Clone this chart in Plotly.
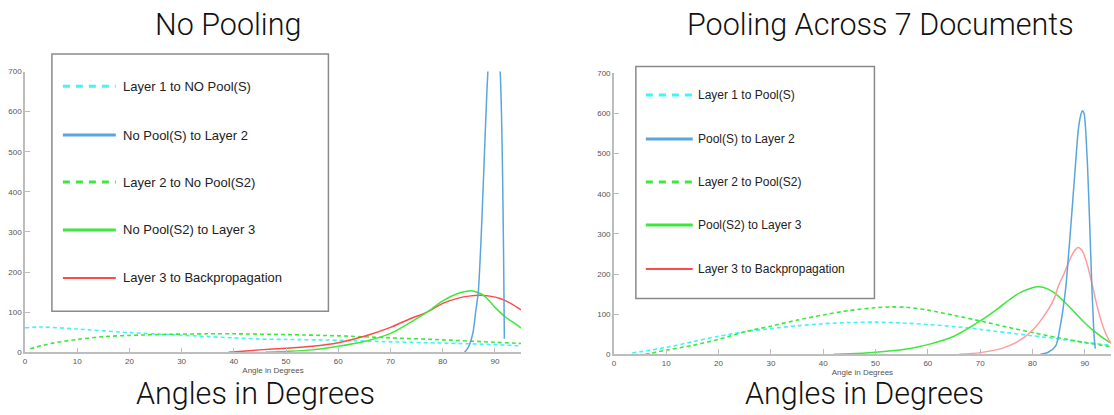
import plotly.graph_objects as go

W, H = 1114, 415

# ---------------- data ----------------
# Left panel: No Pooling
l_names = ["Layer 1 to NO Pool(S)", "No Pool(S) to Layer 2", "Layer 2 to No Pool(S2)",
           "No Pool(S2) to Layer 3", "Layer 3 to Backpropagation"]
l_cyan_x = [0, 3, 10, 20, 28, 35, 40, 45, 50, 60, 70, 80, 90, 95]
l_cyan_y = [61, 63, 58, 49, 44, 39, 36, 33, 32, 30, 26, 23, 19, 16]
l_blue_x = [84.2, 85, 85.8, 86.3, 86.8, 87.4, 88, 88.65, 89.8, 91, 91.8]
l_blue_y = [0, 15, 50, 100, 150, 300, 500, 700, 900, 700, 34]
l_gdash_x = [1, 5, 10, 15, 20, 28, 35, 40, 50, 60, 70, 80, 90, 95]
l_gdash_y = [9, 22, 32, 39, 42, 45, 46, 46, 44, 41, 36, 31, 25, 22]
l_green_x = [46, 50, 55, 60, 65, 70, 74, 77, 80, 83, 85, 86, 88, 90, 92, 94, 95]
l_green_y = [0, 2, 6, 15, 27, 47, 76, 100, 128, 147, 153, 152, 140, 112, 88, 70, 60]
l_red_x = [39, 45, 50, 55, 60, 65, 70, 74, 77, 80, 83, 85, 87, 89, 91, 93, 95]
l_red_y = [0, 6, 10, 15, 24, 40, 62, 85, 100, 122, 135, 140, 142, 140, 134, 122, 106]

# Right panel: Pooling Across 7 Documents
r_names = ["Layer 1 to Pool(S)", "Pool(S) to Layer 2", "Layer 2 to Pool(S2)",
           "Pool(S2) to Layer 3", "Layer 3 to Backpropagation"]
r_cyan_x = [3.5, 10, 15, 20, 25, 30, 35, 40, 45, 50, 55, 60, 65, 70, 75, 80, 85, 90, 95]
r_cyan_y = [3, 17, 31, 45, 56, 64, 71, 76, 79, 80, 78, 74, 69, 62, 54, 46, 38, 30, 22]
r_blue_x = [81.5, 83, 84.4, 85.3, 86.3, 86.9, 87.5, 88.2, 88.8, 89.3, 89.55, 89.85, 90.4, 90.9, 91.3, 91.8, 92.0]
r_blue_y = [0, 5, 20, 70, 160, 250, 350, 470, 565, 600, 607, 600, 500, 335, 183, 40, 14]
r_gdash_x = [6, 10, 15, 20, 25, 30, 35, 40, 45, 50, 53, 56, 60, 65, 70, 75, 80, 85, 90, 95]
r_gdash_y = [0, 10, 22, 37, 56, 70, 85, 98, 109, 116, 118, 117, 110, 97, 83, 68, 54, 41, 29, 19]
r_green_x = [42, 45, 50, 55, 58, 60, 65, 70, 73, 76, 78, 80, 81, 82, 84, 86, 88, 90, 92, 94, 95]
r_green_y = [0, 1, 5, 11, 18, 24, 45, 83, 110, 140, 156, 166, 168, 167, 155, 132, 105, 78, 55, 36, 28]
r_red_x = [66, 70, 74, 77, 80, 82, 84, 85, 86, 87, 88, 88.7, 89.5, 90.5, 91.5, 92.5, 93.5, 94.5, 95]
r_red_y = [0, 4, 14, 30, 60, 92, 135, 172, 200, 232, 258, 266, 258, 222, 168, 112, 68, 38, 28]

x_ticks = [0, 10, 20, 30, 40, 50, 60, 70, 80, 90]
y_ticks = [0, 100, 200, 300, 400, 500, 600, 700]

# ---------------- styles ----------------
CYAN = "#3ff5f5"
BLUE = "#5aa6dc"
GREEN = "#3de83d"
RED = "#ff4a4a"
RED_LIGHT = "#ff9c9c"
DASH = "4px,3px"

def px_x(px):
    return px / W

def px_y(py):
    return 1 - py / H

fig = go.Figure()

def add(x, y, color, dash, xa, ya, name, width=1.5):
    fig.add_trace(go.Scatter(x=x, y=y, mode="lines", name=name, showlegend=False,
                             line=dict(color=color, width=width, dash=dash, shape="spline", smoothing=0.8),
                             xaxis=xa, yaxis=ya, hoverinfo="skip"))

add(l_cyan_x, l_cyan_y, CYAN, DASH, "x", "y", l_names[0], 1.6)
add(l_gdash_x, l_gdash_y, GREEN, DASH, "x", "y", l_names[2], 1.6)
add(l_red_x, l_red_y, RED, "solid", "x", "y", l_names[4])
add(l_green_x, l_green_y, GREEN, "solid", "x", "y", l_names[3])
add(l_blue_x, l_blue_y, BLUE, "solid", "x", "y", l_names[1])

add(r_cyan_x, r_cyan_y, CYAN, DASH, "x2", "y2", r_names[0], 1.6)
add(r_gdash_x, r_gdash_y, GREEN, DASH, "x2", "y2", r_names[2], 1.6)
add(r_green_x, r_green_y, GREEN, "solid", "x2", "y2", r_names[3])
add(r_red_x, r_red_y, RED_LIGHT, "solid", "x2", "y2", r_names[4])
add(r_blue_x, r_blue_y, BLUE, "solid", "x2", "y2", r_names[1])

axis_common = dict(showline=True, linecolor="#bdbdbd", linewidth=1.5, ticks="inside", ticklen=5,
                   tickcolor="#bdbdbd", tickwidth=1, showgrid=False, zeroline=False,
                   tickfont=dict(family="Liberation Sans, Arial", size=8, color="#555"))

fig.update_layout(
    width=W, height=H, margin=dict(l=0, r=0, t=0, b=0),
    paper_bgcolor="white", plot_bgcolor="white", showlegend=False,
    xaxis=dict(domain=[px_x(23), px_x(520)], range=[0, 95], tickvals=x_ticks, anchor="y",
               title=dict(text="Angle in Degrees", standoff=2,
                          font=dict(family="Liberation Sans, Arial", size=8, color="#555")),
               **axis_common),
    yaxis=dict(domain=[px_y(356), px_y(69)], range=[0, 700], tickvals=y_ticks, anchor="x", **axis_common),
    xaxis2=dict(domain=[px_x(613), px_x(1111)], range=[0, 95], tickvals=x_ticks, anchor="y2",
                title=dict(text="Angle in Degrees", standoff=2,
                           font=dict(family="Liberation Sans, Arial", size=8, color="#555")),
                **axis_common),
    yaxis2=dict(domain=[px_y(358), px_y(71)], range=[0, 700], tickvals=y_ticks, anchor="x2", **axis_common),
)

# big titles
for text, cx, cy, sz in [("No Pooling", 226, 21, 30.5), ("Pooling Across 7 Documents", 880, 21, 30.5),
                         ("Angles in Degrees", 254, 398, 30.5), ("Angles in Degrees", 864, 398, 30.5)]:
    fig.add_annotation(text=text, x=px_x(cx), y=px_y(cy), xref="paper", yref="paper",
                       showarrow=False, font=dict(family="Roboto", size=sz, color="#111", weight=300),
                       xanchor="center", yanchor="middle", borderpad=0)

# manual legends
def legend(box, rows, names, colors, dashes, widths, line_x, text_x, fsize):
    x0, y0, x1, y1 = box
    fig.add_shape(type="rect", xref="paper", yref="paper", x0=px_x(x0), x1=px_x(x1),
                  y0=px_y(y1), y1=px_y(y0), line=dict(color="#8a8a8a", width=1.5), fillcolor="white",
                  layer="above")
    for ry, nm, c, d, w in zip(rows, names, colors, dashes, widths):
        fig.add_shape(type="line", xref="paper", yref="paper", x0=px_x(line_x[0]), x1=px_x(line_x[1]),
                      y0=px_y(ry), y1=px_y(ry), line=dict(color=c, width=w, dash=d), layer="above")
        fig.add_annotation(text=nm, x=px_x(text_x), y=px_y(ry), xref="paper", yref="paper",
                           showarrow=False, xanchor="left", yanchor="middle",
                           font=dict(family="Liberation Sans, Arial", size=fsize, color="#222"))

leg_colors = [CYAN, BLUE, GREEN, GREEN, RED]
leg_dashes = ["7px,6px", "solid", "7px,6px", "solid", "solid"]
leg_widths = [3, 3, 3, 3, 2]
legend((50, 51, 327, 314), [84, 134, 182, 231, 280], l_names, leg_colors, leg_dashes, leg_widths,
       (61, 114), 119, 13)
legend((635, 64, 874, 301), [93, 138, 182, 226, 271], r_names, leg_colors, leg_dashes, leg_widths,
       (645, 692), 695, 12)

fig.write_html("out.html")
